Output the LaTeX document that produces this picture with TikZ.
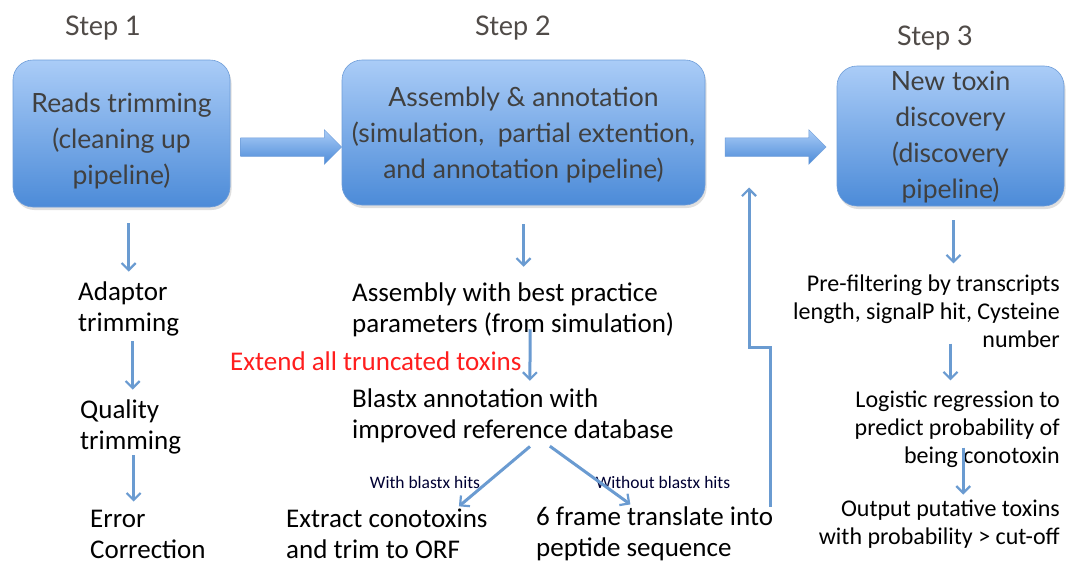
\documentclass[tikz,border=0pt]{standalone}
\usepackage{fontspec}
\usetikzlibrary{shapes.arrows,shadows,arrows.meta}
\setmainfont{Carlito}
\newfontfamily\gillfont{Lato}

\definecolor{boxtop}{RGB}{170,204,247}
\definecolor{boxbot}{RGB}{76,139,216}
\definecolor{boxedge}{RGB}{110,157,217}
\definecolor{flowblue}{RGB}{106,155,209}
\definecolor{steptext}{RGB}{80,75,72}
\definecolor{boxtext}{RGB}{64,64,64}

\tikzset{
  stage/.style={rectangle, rounded corners=20pt, top color=boxtop, bottom color=boxbot,
    draw=boxedge, line width=0.6pt, inner sep=0pt,
    drop shadow={opacity=0.25, shadow xshift=1.5pt, shadow yshift=-3pt}},
  stagetext/.style={align=center, text=boxtext, inner sep=0pt,
    font=\gillfont\fontsize{26.5}{36}\selectfont},
  bigarrow/.style={single arrow, top color=boxtop, bottom color=boxbot, draw=boxedge,
    line width=0.5pt, inner xsep=0pt, inner ysep=9pt, minimum width=34pt, minimum height=101pt,
    single arrow head extend=8pt, single arrow tip angle=90},
  steplabel/.style={font=\gillfont\fontsize{27}{32}\selectfont, text=steptext},
  task/.style={inner sep=0pt, align=left, font=\fontsize{27}{31}\selectfont},
  rtask/.style={inner sep=0pt, align=right, font=\fontsize{24}{28}\selectfont},
  hitlabel/.style={inner sep=0pt, font=\fontsize{17.5}{20}\selectfont, text=black!80!blue},
  flow/.style={draw=flowblue, line width=3pt, -{Straight Barb[length=7pt,width=14pt,line width=2.2pt]}}
}

\begin{document}
\begin{tikzpicture}[x=1pt, y=-1pt]
\useasboundingbox[fill=white] (0,0) rectangle (1069,565);

% step headings
\node[steplabel] (step1) at (103,28) {Step 1};
\node[steplabel] (step2) at (513,28) {Step 2};
\node[steplabel] (step3) at (935,38) {Step 3};

% the three pipelines
\node[stage, minimum width=217pt, minimum height=147pt,
  label={[stagetext, yshift=-8pt]center:{Reads trimming\\(cleaning up\\pipeline)}}] (trim) at (121.5,133.5) {};
\node[stage, minimum width=363pt, minimum height=145pt,
  label={[stagetext, yshift=-3pt]center:{Assembly \& annotation\\(simulation,~ partial extention,\\and annotation pipeline)}}] (assem) at (523.5,132.5) {};
\node[stage, minimum width=227pt, minimum height=140pt,
  label={[stagetext, yshift=-1pt]center:{New toxin\\discovery\\(discovery\\pipeline)}}] (disc) at (950.5,136) {};

\node[bigarrow] (fat1) at (286.5,147) {};
\node[bigarrow] (fat2) at (771,147) {};

% step 1 details
\node[task, anchor=west] (adaptor) at (78,309) {Adaptor\\trimming};
\node[task, anchor=west] (quality) at (80,427) {Quality\\trimming};
\node[task, anchor=west] (error) at (90,534) {Error\\Correction};

% step 2 details
\node[task, anchor=west] (asmbest) at (352,310) {Assembly with best practice\\parameters (from simulation)};
\node[task, anchor=west, text={rgb,255:red,255;green,30;blue,30}] (extend) at (230,361) {Extend all truncated toxins};
\node[task, anchor=west] (blastx) at (352,416) {Blastx annotation with\\improved reference database};
\node[hitlabel] (withhits) at (425,482) {With blastx hits};
\node[hitlabel] (withouthits) at (663,482) {Without blastx hits};
\node[task, anchor=west] (extract) at (286,534) {Extract conotoxins\\and trim to ORF};
\node[task, anchor=west] (sixframe) at (536,534) {6 frame translate into\\peptide sequence};

% step 3 details
\node[rtask, anchor=east] (prefilter) at (1060,311) {Pre-filtering by transcripts\\length, signalP hit, Cysteine\\number};
\node[rtask, anchor=east] (logreg) at (1060,429) {Logistic regression to\\predict probability of\\being conotoxin};
\node[rtask, anchor=east] (output) at (1060,524) {Output putative toxins\\with probability > cut-off};

\coordinate (jog) at (749,347);

% connectors
\draw[flow, shorten <=16pt, shorten >=10pt] (trim.south -| adaptor.north) -- (adaptor.north);
\draw[flow, shorten <=5pt, shorten >=10pt] ([xshift=4pt]adaptor.south) -- ([xshift=2pt]quality.north);
\draw[flow, shorten <=1pt, shorten >=8pt] ([xshift=3pt]quality.south) -- ([xshift=3pt]quality.south |- error.north);

\draw[flow, shorten <=19pt, shorten >=16pt] (assem.south) -- (assem.south |- asmbest.north);
\draw[flow, shorten <=-8pt, shorten >=8pt] ([xshift=17pt]asmbest.south) -- ([xshift=17pt]blastx.north);
\draw[flow, shorten <=5pt, shorten >=4pt] ([xshift=21pt]blastx.south) -- ([xshift=69pt]extract.north);
\draw[flow, shorten <=5pt, shorten >=4pt] ([xshift=33pt]blastx.south) -- ([xshift=-21pt]sixframe.north);
\draw[flow, shorten >=31pt] ([xshift=-3pt]sixframe.north east) |- (jog) -- (jog |- fat2.south);

\draw[flow, shorten <=14pt, shorten >=11pt] ([xshift=3pt]disc.south) -- ([xshift=3pt]disc.south |- prefilter.north);
\draw[flow, shorten <=-4pt, shorten >=10pt] ([xshift=24pt]prefilter.south) -- ([xshift=24pt]prefilter.south |- logreg.north);
\draw[flow, shorten <=-20pt, shorten >=5pt] ([xshift=6pt]logreg.south) -- ([xshift=6pt]logreg.south |- output.north);

\end{tikzpicture}
\end{document}
